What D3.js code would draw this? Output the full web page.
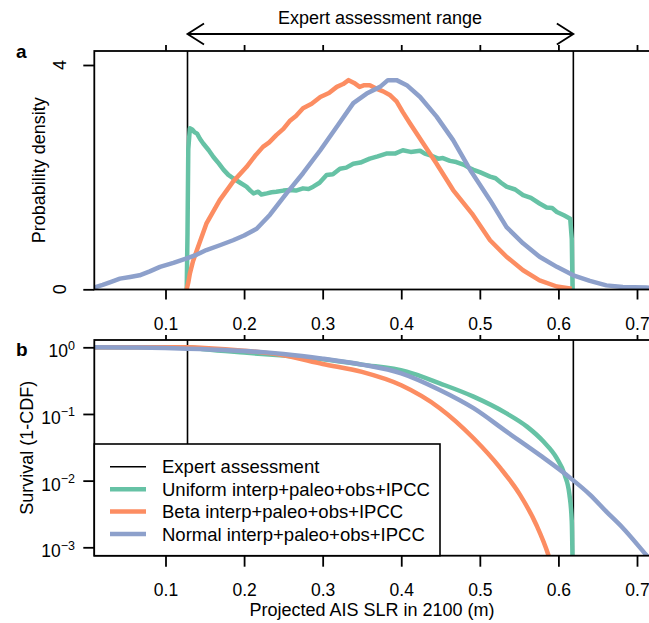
<!DOCTYPE html>
<html><head><meta charset="utf-8">
<script src="https://cdn.jsdelivr.net/npm/d3@7"></script>
<style>body{margin:0;background:#fff}svg{display:block}text{font-family:"Liberation Sans",Arial,sans-serif;fill:#000}</style>
</head><body>
<svg id="c" width="649" height="623"></svg>
<script>
// ---------------- data ----------------
const seriesNames = ["Uniform interp+paleo+obs+IPCC","Beta interp+paleo+obs+IPCC","Normal interp+paleo+obs+IPCC"];
const seriesColors = ["#66c2a5","#fc8d62","#8da0cb"];
const expertRange = [0.128, 0.619];
const xTicks = [0.1,0.2,0.3,0.4,0.5,0.6,0.7];
const densityTicks = [0,4];
const survivalTicks = [1,0.1,0.01,0.001];
const survivalTickExp = ["0","\u22121","\u22122","\u22123"];

// Panel a: probability density
const uniformDensX = [0.127,0.128,0.129,0.131,0.134,0.137,0.140,0.144,0.148,0.155,0.161,0.168,0.174,0.180,0.186,0.195,0.203,0.208,0.212,0.218,0.222,0.229,0.235,0.241,0.250,0.258,0.266,0.275,0.282,0.288,0.296,0.305,0.313,0.322,0.330,0.339,0.348,0.360,0.370,0.381,0.392,0.402,0.412,0.424,0.430,0.437,0.447,0.453,0.462,0.470,0.480,0.487,0.492,0.500,0.513,0.520,0.527,0.534,0.545,0.555,0.565,0.576,0.585,0.592,0.598,0.607,0.615,0.617,0.618];
const uniformDensY = [0.00,1.00,2.50,2.87,2.85,2.80,2.78,2.68,2.60,2.48,2.36,2.24,2.13,2.04,1.98,1.90,1.83,1.76,1.71,1.74,1.69,1.71,1.73,1.74,1.76,1.77,1.76,1.80,1.79,1.83,1.90,2.04,2.05,2.15,2.17,2.24,2.26,2.33,2.37,2.42,2.42,2.48,2.45,2.47,2.42,2.39,2.33,2.34,2.29,2.27,2.22,2.16,2.13,2.09,2.01,1.98,1.90,1.83,1.78,1.68,1.63,1.53,1.46,1.45,1.38,1.32,1.26,0.90,0.00];

const betaDensX = [0.127,0.129,0.131,0.135,0.140,0.152,0.169,0.186,0.203,0.214,0.224,0.232,0.241,0.250,0.258,0.266,0.275,0.286,0.297,0.308,0.318,0.326,0.333,0.340,0.347,0.353,0.360,0.368,0.377,0.386,0.394,0.402,0.411,0.428,0.445,0.466,0.490,0.513,0.534,0.555,0.576,0.598,0.617];
const betaDensY = [0.00,0.12,0.28,0.50,0.70,1.17,1.59,1.92,2.18,2.38,2.54,2.62,2.75,2.86,3.00,3.09,3.23,3.31,3.43,3.50,3.61,3.66,3.73,3.68,3.61,3.64,3.64,3.58,3.53,3.46,3.35,3.16,2.96,2.60,2.24,1.77,1.35,0.875,0.58,0.34,0.16,0.05,0.01];

const normalDensX = [0.009,0.020,0.030,0.042,0.055,0.067,0.080,0.093,0.110,0.127,0.140,0.152,0.170,0.186,0.200,0.216,0.233,0.254,0.275,0.297,0.318,0.339,0.356,0.373,0.383,0.394,0.407,0.424,0.445,0.466,0.489,0.513,0.534,0.555,0.576,0.598,0.619,0.640,0.661,0.682,0.712,0.730];
const normalDensY = [0.03,0.08,0.13,0.19,0.22,0.25,0.32,0.40,0.47,0.55,0.62,0.70,0.79,0.875,0.96,1.08,1.33,1.71,2.07,2.48,2.90,3.32,3.49,3.61,3.73,3.73,3.64,3.43,3.08,2.66,2.10,1.59,1.11,0.82,0.58,0.40,0.25,0.15,0.07,0.04,0.03,0.02];

// Panel b: survival (1-CDF)
const uniformSurvX = [0.009,0.128,0.150,0.200,0.250,0.300,0.350,0.407,0.449,0.492,0.534,0.560,0.581,0.598,0.608,0.614,0.617,0.618];
const uniformSurvY = [1,0.998,0.933,0.832,0.750,0.661,0.550,0.432,0.288,0.182,0.102,0.0646,0.0385,0.0216,0.0122,0.0062,0.00245,0.0006];

const betaSurvX = [0.009,0.128,0.150,0.200,0.250,0.300,0.350,0.400,0.449,0.492,0.526,0.551,0.572,0.587,0.592];
const betaSurvY = [1,0.999,0.977,0.891,0.759,0.562,0.427,0.269,0.122,0.0432,0.0155,0.00617,0.00216,0.00078,0.0005];

const normalSurvX = [0.009,0.050,0.100,0.128,0.150,0.200,0.250,0.300,0.350,0.400,0.449,0.492,0.534,0.576,0.615,0.640,0.661,0.682,0.710,0.725];
const normalSurvY = [1,0.993,0.973,0.955,0.933,0.881,0.794,0.676,0.550,0.407,0.229,0.122,0.0543,0.0243,0.0110,0.00617,0.00343,0.00195,0.00081,0.0005];

// ---------------- layout ----------------
const svg = d3.select("#c");
const L = 94.3, R = 652;
const aTop = 51, aBot = 289.5;
const bTop = 340, bBot = 555.7;
const lw = 4.5, fs = 18;

const x = d3.scaleLinear().domain([0.1,0.7]).range([165.5,637]);
const yA = d3.scaleLinear().domain([0,4]).range([289.3,65]);
const yB = d3.scaleLog().domain([1,0.001]).range([347.3,547.3]);

const defs = svg.append("defs");
defs.append("clipPath").attr("id","clipA").append("rect").attr("x",L).attr("y",aTop).attr("width",R-L).attr("height",aBot-aTop);
defs.append("clipPath").attr("id","clipB").append("rect").attr("x",L).attr("y",bTop).attr("width",R-L).attr("height",bBot-bTop);

// ---------- title & arrow ----------
svg.append("text").attr("x",380).attr("y",24).attr("text-anchor","middle").style("font-size",fs+"px").text("Expert assessment range");
const xe0 = x(expertRange[0]), xe1 = x(expertRange[1]), ya = 34;
svg.append("path").attr("fill","none").attr("stroke","#000").attr("stroke-width",1.8)
  .attr("d",`M${xe0},${ya}H${xe1}M${xe0+16.5},${ya-10.5}L${xe0},${ya}L${xe0+16.5},${ya+10.5}M${xe1-16.5},${ya-10.5}L${xe1},${ya}L${xe1-16.5},${ya+10.5}`);

// ---------- panel a ----------
const gA = svg.append("g");
gA.append("g").attr("clip-path","url(#clipA)").selectAll("line.exp").data(expertRange).join("line")
  .attr("x1",d=>x(d)).attr("x2",d=>x(d)).attr("y1",aTop).attr("y2",aBot).attr("stroke","#000").attr("stroke-width",1.6);

const densSeries = [[uniformDensX,uniformDensY],[betaDensX,betaDensY],[normalDensX,normalDensY]];
const lineA = d3.line().x(d=>x(d[0])).y(d=>yA(d[1]));
const gAL = gA.append("g").attr("clip-path","url(#clipA)");
densSeries.forEach((s,i)=>{
  const pts = s[0].map((v,j)=>[v,s[1][j]]);
  gAL.append("path").datum(pts).attr("d",lineA).attr("fill","none").attr("stroke",seriesColors[i])
    .attr("stroke-width",lw).attr("stroke-linejoin","round").attr("stroke-linecap","butt");
});
gA.append("rect").attr("x",L).attr("y",aTop).attr("width",R-L).attr("height",aBot-aTop).attr("fill","none").attr("stroke","#000").attr("stroke-width",1.8);

const axBotA = d3.axisBottom(x).tickValues(xTicks).tickSize(10).tickPadding(18).tickFormat(d3.format(".1f"));
gA.append("g").attr("transform",`translate(0,${aBot})`).call(axBotA);
const axTopA = d3.axisTop(x).tickValues(xTicks).tickSize(6).tickFormat("");
gA.append("g").attr("transform",`translate(0,${aTop})`).call(axTopA);
const axLeftA = d3.axisLeft(yA).tickValues(densityTicks).tickSize(11).tickFormat("");
gA.append("g").attr("transform",`translate(${L},0)`).call(axLeftA);
densityTicks.forEach(v=>{
  gA.append("text").attr("transform",`translate(66,${yA(v)}) rotate(-90)`).attr("text-anchor","middle").style("font-size",fs+"px").text(v);
});
gA.append("text").attr("transform",`translate(45,${(aTop+aBot)/2}) rotate(-90)`).attr("text-anchor","middle").style("font-size",fs+"px").text("Probability density");
svg.append("text").attr("x",16).attr("y",58).style("font-size","19px").style("font-weight","bold").text("a");

// ---------- panel b ----------
const gB = svg.append("g");
gB.append("g").attr("clip-path","url(#clipB)").selectAll("line.exp").data(expertRange).join("line")
  .attr("x1",d=>x(d)).attr("x2",d=>x(d)).attr("y1",bTop).attr("y2",bBot).attr("stroke","#000").attr("stroke-width",1.6);
const survSeries = [[uniformSurvX,uniformSurvY],[betaSurvX,betaSurvY],[normalSurvX,normalSurvY]];
const lineB = d3.line().x(d=>x(d[0])).y(d=>yB(d[1])).curve(d3.curveMonotoneX);
const gBL = gB.append("g").attr("clip-path","url(#clipB)");
survSeries.forEach((s,i)=>{
  const pts = s[0].map((v,j)=>[v,s[1][j]]);
  gBL.append("path").datum(pts).attr("d",lineB).attr("fill","none").attr("stroke",seriesColors[i])
    .attr("stroke-width",lw).attr("stroke-linejoin","round");
});
gB.append("rect").attr("x",L).attr("y",bTop).attr("width",R-L).attr("height",bBot-bTop).attr("fill","none").attr("stroke","#000").attr("stroke-width",1.8);

gB.append("g").attr("transform",`translate(0,${bBot})`).call(d3.axisBottom(x).tickValues(xTicks).tickSize(11).tickPadding(17).tickFormat(d3.format(".1f")));
gB.append("g").attr("transform",`translate(0,${bTop})`).call(d3.axisTop(x).tickValues(xTicks).tickSize(5).tickFormat(""));
gB.append("g").attr("transform",`translate(${L},0)`).call(d3.axisLeft(yB).tickValues(survivalTicks).tickSize(11).tickFormat(""));
survivalTicks.forEach((v,i)=>{
  const t = gB.append("text").attr("x",75).attr("y",yB(v)+10).attr("text-anchor","end").style("font-size","17.5px");
  t.append("tspan").text("10");
  t.append("tspan").attr("dy",-7.5).style("font-size","12.5px").text(survivalTickExp[i]);
});
gB.append("text").attr("transform",`translate(33,${(bTop+bBot)/2}) rotate(-90)`).attr("text-anchor","middle").style("font-size",fs+"px").text("Survival (1-CDF)");
svg.append("text").attr("x",16).attr("y",356).style("font-size","19px").style("font-weight","bold").text("b");
svg.append("text").attr("x",372).attr("y",616).attr("text-anchor","middle").style("font-size",fs+"px").text("Projected AIS SLR in 2100 (m)");

// axis styling
svg.selectAll(".domain").remove();
svg.selectAll(".tick line").attr("stroke","#000").attr("stroke-width",1.8);
svg.selectAll(".tick text").style("font-size","17.5px").style("font-family","'Liberation Sans',Arial,sans-serif");

// ---------- legend ----------
const lg = svg.append("g");
lg.append("rect").attr("x",L).attr("y",444).attr("width",440-L).attr("height",bBot-444).attr("fill","#fff").attr("stroke","#000").attr("stroke-width",1.6);
const legNames = ["Expert assessment"].concat(seriesNames);
const legColors = ["#000"].concat(seriesColors);
const legWidths = [1.6,lw,lw,lw];
legNames.forEach((n,i)=>{
  const yy = 466.7 + i*22.45;
  lg.append("line").attr("x1",110).attr("x2",146).attr("y1",yy).attr("y2",yy).attr("stroke",legColors[i]).attr("stroke-width",legWidths[i]);
  lg.append("text").attr("x",162).attr("y",yy+6.5).style("font-size","18.5px").text(n);
});
</script>
</body></html>
